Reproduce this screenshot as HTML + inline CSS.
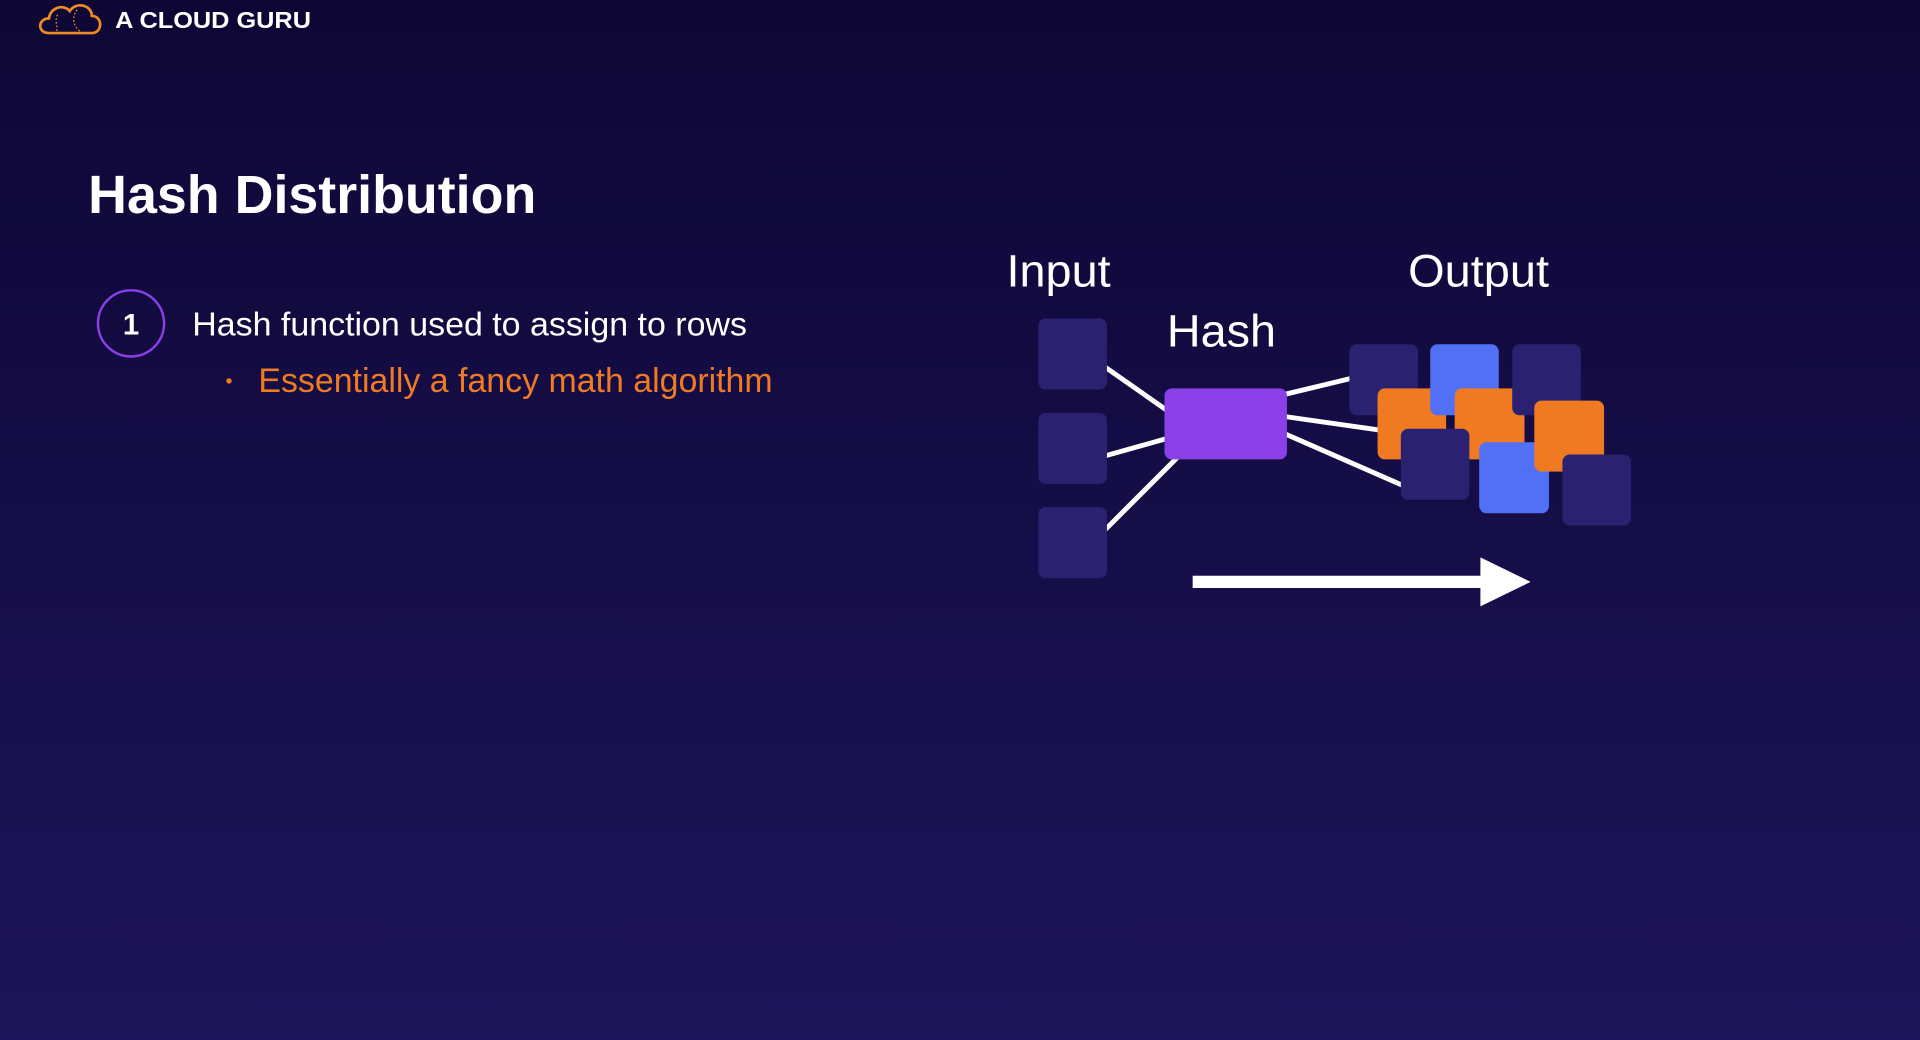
<!DOCTYPE html>
<html><head><meta charset="utf-8"><style>
html,body{margin:0;padding:0;width:1920px;height:1040px;overflow:hidden;background:#140c45;}
svg{display:block}
text{font-family:"Liberation Sans",sans-serif;}
</style></head><body>
<svg width="1920" height="1040" viewBox="0 0 1568 849" preserveAspectRatio="none">
<defs><linearGradient id="bg" x1="0" y1="0" x2="0" y2="1">
<stop offset="0" stop-color="#0e0735"/><stop offset="1" stop-color="#1d1459"/></linearGradient></defs>
<rect width="1568" height="849" fill="url(#bg)"/>
<!-- logo -->
<path d="M40 27 C30 27 31 15 40 15 C41 6 52 3 57 9 C62 1 75 4 75 13 C84 13 84 27 75 27 Z" fill="none" stroke="#ef8a24" stroke-width="2.2"/>
<path d="M47 12 C44 18 48 22 46 26 M63 8 C58 14 60 22 66 26" fill="none" stroke="#ef8a24" stroke-width="1" stroke-dasharray="1.5 1.5"/>
<text x="94" y="23" font-size="19" font-weight="bold" fill="#fff" textLength="160" lengthAdjust="spacingAndGlyphs">A CLOUD GURU</text>
<!-- title -->
<text x="72" y="174" font-size="44" font-weight="bold" fill="#fff" textLength="366" lengthAdjust="spacingAndGlyphs">Hash Distribution</text>
<circle cx="107" cy="264" r="27" fill="none" stroke="#8a3fe8" stroke-width="2"/>
<text x="107" y="273" font-size="24" font-weight="bold" fill="#fff" text-anchor="middle">1</text>
<text x="157" y="274" font-size="27" fill="#fff" textLength="453" lengthAdjust="spacingAndGlyphs">Hash function used to assign to rows</text>
<circle cx="187" cy="311" r="2.2" fill="#ef7a24"/>
<text x="211" y="320" font-size="28" fill="#ef7a24" textLength="420" lengthAdjust="spacingAndGlyphs">Essentially a fancy math algorithm</text>
<!-- labels -->
<text x="822" y="234" font-size="37" fill="#fff" textLength="85" lengthAdjust="spacingAndGlyphs">Input</text>
<text x="953" y="283" font-size="37" fill="#fff" textLength="89" lengthAdjust="spacingAndGlyphs">Hash</text>
<text x="1150" y="234" font-size="37" fill="#fff" textLength="115" lengthAdjust="spacingAndGlyphs">Output</text>
<!-- lines -->
<g stroke="#fff" stroke-width="4" fill="none">
<line x1="903" y1="300" x2="953" y2="335"/>
<line x1="903" y1="372" x2="953" y2="358"/>
<line x1="903" y1="432" x2="962" y2="373"/>
<line x1="1049" y1="322" x2="1103" y2="309"/>
<line x1="1049" y1="340" x2="1126" y2="351"/>
<line x1="1049" y1="354" x2="1145" y2="396"/>
</g>
<!-- input squares -->
<g fill="#2a2170">
<rect x="848" y="260" width="56" height="58" rx="6"/>
<rect x="848" y="337" width="56" height="58" rx="6"/>
<rect x="848" y="414" width="56" height="58" rx="6"/>
</g>
<rect x="951" y="317" width="100" height="58" rx="6" fill="#8a3fe8"/>
<!-- output -->
<rect x="1102" y="281" width="56" height="58" rx="6" fill="#2a2170"/>
<rect x="1125" y="317" width="56" height="58" rx="6" fill="#ef7a22"/>
<rect x="1168" y="281" width="56" height="58" rx="6" fill="#5170f5"/>
<rect x="1188" y="317" width="57" height="58" rx="6" fill="#ef7a22"/>
<rect x="1235" y="281" width="56" height="58" rx="6" fill="#2a2170"/>
<rect x="1144" y="350" width="56" height="58" rx="6" fill="#2a2170"/>
<rect x="1208" y="361" width="57" height="58" rx="6" fill="#5170f5"/>
<rect x="1253" y="327" width="57" height="58" rx="6" fill="#ef7a22"/>
<rect x="1276" y="371" width="56" height="58" rx="6" fill="#2a2170"/>
<!-- arrow -->
<rect x="974" y="470" width="238" height="10" fill="#fff"/>
<polygon points="1209,455 1250,475 1209,495" fill="#fff"/>
</svg>
</body></html>
